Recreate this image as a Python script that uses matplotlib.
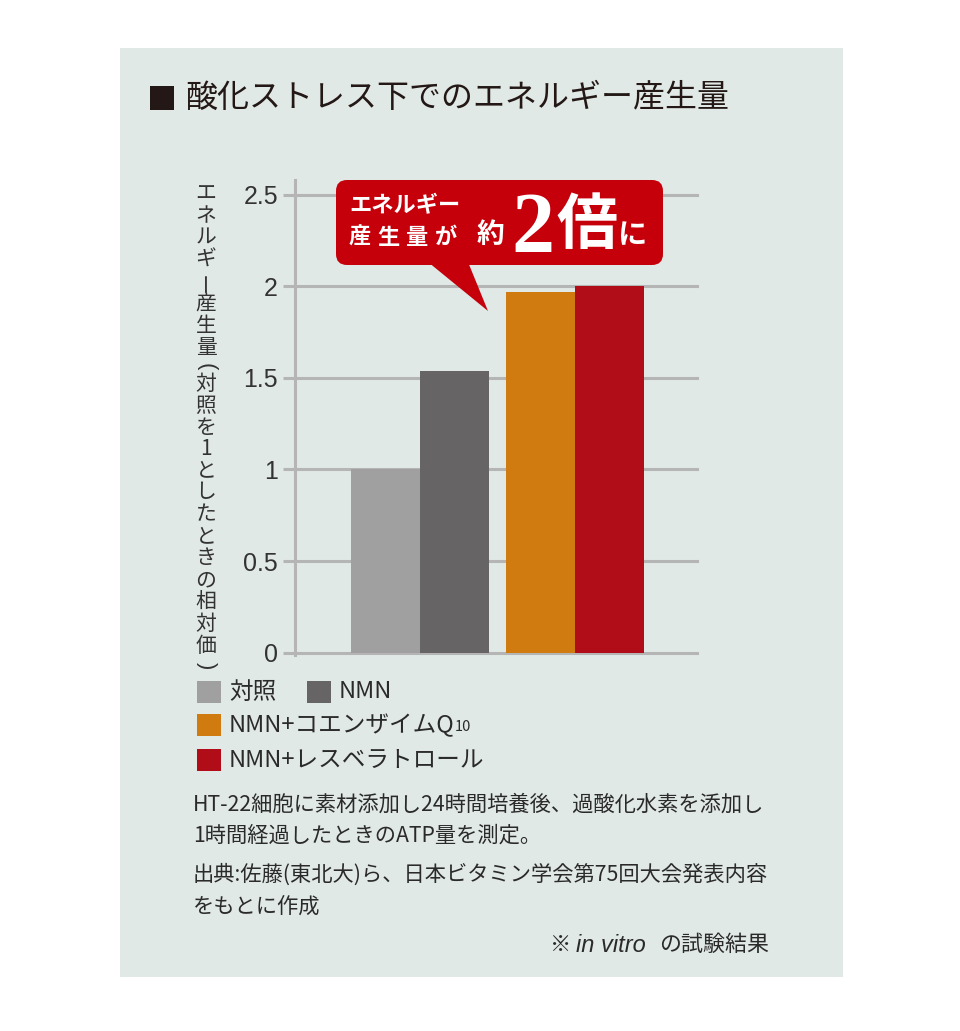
import matplotlib
matplotlib.use("Agg")
import matplotlib.pyplot as plt
from matplotlib.patches import Rectangle, FancyBboxPatch, Polygon

plt.rcParams['font.family'] = ['Noto Sans CJK JP', 'DejaVu Sans']

# data
groups = ["対照", "NMN", "NMN+コエンザイムQ", "NMN+レスベラトロール"]
values = [1.00, 1.54, 1.97, 2.00]
colors = ["#a0a0a0", "#666464", "#d07b0f", "#b00d18"]
yticks = [0, 0.5, 1, 1.5, 2, 2.5]
yticklabels = ["0", "0.5", "1", "1.5", "2", "2.5"]

title = "酸化ストレス下でのエネルギー産生量"
ylabel = "エネルギー産生量(対照を1としたときの相対価)"
note1 = "HT-22細胞に素材添加し24時間培養後、過酸化水素を添加し"
note2 = "1時間経過したときのATP量を測定。"
note3 = "出典:佐藤(東北大)ら、日本ビタミン学会第75回大会発表内容"
note4 = "をもとに作成"

GRID = "#b5b5b5"
TXT = "#231815"
BG = "#e1e9e6"
CALLOUT = "#c5000b"

W, H = 960, 1031
fig = plt.figure(figsize=(W / 100, H / 100), dpi=100)
fig.patch.set_facecolor("white")

# panel background
bg = fig.add_axes([0, 0, 1, 1], zorder=0)
bg.set_xlim(0, W)
bg.set_ylim(H, 0)
bg.axis("off")
bg.add_patch(Rectangle((120, 48), 723, 929, color=BG, lw=0))

# chart
y0, y1 = 652.7, 180.0
ax = fig.add_axes([295 / W, (H - y0) / H, 402 / W, (y0 - y1) / H], zorder=1)
ax.patch.set_alpha(0)
xpos = [0, 1, 2.24, 3.24]
ax.bar(xpos, values, width=1.0, color=colors, zorder=2)
ax.set_xlim(-1.31, 4.51)
ax.set_ylim(0, 2.58)
ax.set_yticks(yticks)
ax.set_yticklabels(yticklabels, fontsize=18, color="#333333", family=["Liberation Sans", "DejaVu Sans"])
ax.yaxis.grid(True, color=GRID, lw=2.2)
for gl in ax.get_ygridlines():
    gl.set_clip_on(False)
ax.set_axisbelow(True)
ax.tick_params(axis="y", length=8.6, width=2.2, color=GRID, pad=3.6)
ax.tick_params(axis="x", bottom=False, labelbottom=False)
for s in ["top", "right", "bottom"]:
    ax.spines[s].set_visible(False)
ax.spines["left"].set_color(GRID)
ax.spines["left"].set_linewidth(2.2)
ax.spines["left"].set_bounds(-0.01, 2.58)

# overlay for text and callout
ov = fig.add_axes([0, 0, 1, 1], zorder=3)
ov.set_xlim(0, W)
ov.set_ylim(H, 0)
ov.axis("off")

# title
ov.add_patch(Rectangle((150, 86), 24, 24, color=TXT, lw=0))
ov.text(185, 98, title, fontsize=23, color=TXT, va="center", ha="left")

# vertical y label (tategaki): brackets and long vowel mark turned
yy = 183
step = 22.0
for ch in ylabel:
    if ch in "()":
        adv = 0.65
    elif ch == "1":
        adv = 0.9
    else:
        adv = 1.0
    cy = yy + adv * step / 2
    if ch in "()":
        ov.text(206, cy + 1, ch, fontsize=16, color="#333333", ha="center", va="center",
                rotation=-90, family=["Liberation Sans", "DejaVu Sans"])
    elif ch == "ー":
        ov.text(207, cy, ch, fontsize=15, color="#333333", ha="center", va="center", rotation=90)
    else:
        ov.text(206, cy, ch, fontsize=15, color="#333333", ha="center", va="center")
    yy += adv * step

# callout
ov.add_patch(FancyBboxPatch((336, 180), 327, 85, boxstyle="round,pad=0,rounding_size=11",
                            color=CALLOUT, lw=0))
ov.add_patch(Polygon([(428, 262), (468, 262), (488, 311)], closed=True, color=CALLOUT, lw=0))
ov.text(349, 206, "エネルギー", fontsize=16, color="white", fontweight="bold", ha="left", va="center")
for i, ch in enumerate("産生量が"):
    ov.text(360 + i * 28.6, 237, ch, fontsize=16, color="white", fontweight="bold",
            ha="center", va="center")
ov.text(490, 235, "約", fontsize=20, color="white", fontweight="bold", ha="center", va="center")
ov.text(533, 252, "2", fontsize=62, color="white", fontweight="bold", ha="center", va="baseline",
        family=["Liberation Serif", "DejaVu Serif"])
ov.text(587, 226, "倍", fontsize=44, color="white", fontweight="bold", ha="center", va="center")
ov.text(633, 235, "に", fontsize=21, color="white", fontweight="bold", ha="center", va="center")

# legend
leg_rows = [(197, 692, 0), (307, 692, 1), (197, 725, 2), (197, 760, 3)]
for x, y, i in leg_rows:
    ov.add_patch(Rectangle((x, y - 11), 24, 22, color=colors[i], lw=0))
    t = ov.text(x + 32, y, groups[i], fontsize=17, color="#2a2a2a", ha="left", va="center")
    if i == 2:
        ov.annotate("10", xy=(1, 0.1), xycoords=t, fontsize=10.5, color="#2a2a2a",
                    ha="left", va="bottom")

# footnotes
fs = 15.3
ov.text(193, 805, note1, fontsize=fs, color="#2a2a2a", ha="left", va="center")
ov.text(193, 836, note2, fontsize=fs, color="#2a2a2a", ha="left", va="center")
ov.text(193, 875, note3, fontsize=fs, color="#2a2a2a", ha="left", va="center")
ov.text(193, 907, note4, fontsize=fs, color="#2a2a2a", ha="left", va="center")
t_end = ov.text(769, 945, "の試験結果", fontsize=15.8, color="#2a2a2a", ha="right", va="center")
t_it = ov.annotate("in vitro  ", xy=(0, 0.5), xycoords=t_end, fontsize=17, color="#2a2a2a",
                   ha="right", va="center", style="italic",
                   family=["Liberation Sans", "DejaVu Sans"])
ov.annotate("※ ", xy=(0, 0.5), xycoords=t_it, fontsize=fs, color="#2a2a2a",
            ha="right", va="center")

fig.savefig("out.png", dpi=100, facecolor="white")
